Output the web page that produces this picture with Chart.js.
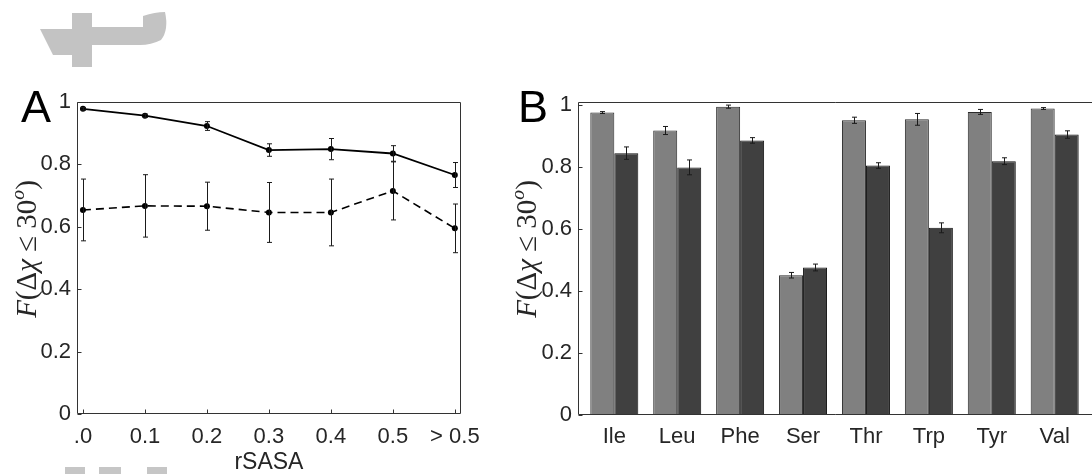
<!DOCTYPE html>
<html>
<head>
<meta charset="utf-8">
<script src="https://cdn.jsdelivr.net/npm/chart.js@4/dist/chart.umd.min.js"></script>
<style>
  body { margin: 0; background: #fff; }
  #wrap { position: relative; width: 1092px; height: 474px; overflow: hidden; }
  canvas { position: absolute; top: 0; }
  #chartA { left: 0; }
  #chartB { left: 490px; }
  .sq { position: absolute; background: #c6c6c6; top: 467px; height: 7px; }
  svg { position: absolute; left: 0; top: 0; }
</style>
</head>
<body>
<div id="wrap">
  <svg width="180" height="80">
    <path fill="#c3c3c3" d="M72,13 L92,13 L92,27 L143,27 L143,16 Q155,12 165,12 Q169,30 161,40 Q151,45 140,45 L92,45 L92,67 L72,67 L72,55 L53,55 L40,29 L72,29 Z"/>
  </svg>
  <div class="sq" style="left:65px;width:20px"></div>
  <div class="sq" style="left:99px;width:22px"></div>
  <div class="sq" style="left:147px;width:20px"></div>
  <canvas id="chartA" width="490" height="474"></canvas>
  <canvas id="chartB" width="602" height="474"></canvas>
</div>
<script>
// panel A: fraction vs rSASA bin
const rsasaTicks = [".0", "0.1", "0.2", "0.3", "0.4", "0.5", "> 0.5"];
const solidF = [0.978, 0.956, 0.923, 0.846, 0.849, 0.835, 0.766];
const solidErr = [0.004, 0.005, 0.014, 0.02, 0.034, 0.025, 0.04];
const dashedF = [0.654, 0.667, 0.666, 0.646, 0.646, 0.715, 0.595];
const dashedErr = [0.099, 0.1, 0.077, 0.096, 0.107, 0.093, 0.078];

// panel B: per residue
const residues = ["Ile", "Leu", "Phe", "Ser", "Thr", "Trp", "Tyr", "Val"];
const lightF = [0.976, 0.918, 0.995, 0.451, 0.951, 0.954, 0.978, 0.989];
const lightErr = [0.003, 0.013, 0.005, 0.009, 0.01, 0.019, 0.008, 0.003];
const darkF = [0.845, 0.799, 0.886, 0.476, 0.805, 0.604, 0.819, 0.905];
const darkErr = [0.02, 0.024, 0.009, 0.011, 0.009, 0.016, 0.011, 0.012];

const yTicks = [0, 0.2, 0.4, 0.6, 0.8, 1];
const sans = "'Liberation Sans', Arial, sans-serif";
const serif = "'Liberation Serif', 'Times New Roman', serif";
const ink = "#262626";

function pts(vals) {
  return vals.map((v, i) => ({ x: i, y: v }));
}
function yLabel(v) {
  return v === 0 ? "0" : v === 1 ? "1" : v.toFixed(1);
}

// error bars drawn through the scales
const errorBars = {
  id: "errorBars",
  afterDatasetsDraw(chart) {
    const ctx = chart.ctx;
    const ys = chart.scales.y;
    chart.data.datasets.forEach((ds, i) => {
      if (!ds.errors) return;
      const meta = chart.getDatasetMeta(i);
      ctx.save();
      ctx.strokeStyle = "#1a1a1a";
      ctx.lineWidth = 1;
      meta.data.forEach((el, j) => {
        const v = ds.data[j].y, e = ds.errors[j];
        const x = Math.round(el.x) + 0.5;
        const t = ys.getPixelForValue(v + e), b = ys.getPixelForValue(v - e);
        ctx.beginPath();
        ctx.moveTo(x, t); ctx.lineTo(x, b);
        ctx.moveTo(x - 2.5, t); ctx.lineTo(x + 2.5, t);
        ctx.moveTo(x - 2.5, b); ctx.lineTo(x + 2.5, b);
        ctx.stroke();
      });
      ctx.restore();
    });
  }
};

// matlab style box, inward ticks, panel letter and latex-ish y label
const frame = {
  id: "frame",
  afterDraw(chart, args, opts) {
    const ctx = chart.ctx;
    const a = chart.chartArea;
    const L = Math.round(a.left) + 0.5, R = Math.round(a.right) - 0.5;
    const T = Math.round(a.top) + 0.5, B = Math.round(a.bottom) - 0.5;
    ctx.save();
    ctx.lineWidth = 1;
    ctx.strokeStyle = "#333";
    ctx.beginPath();
    ctx.moveTo(L, T); ctx.lineTo(L, B); ctx.lineTo(opts.right ? R : chart.width, B);
    ctx.moveTo(L, T); ctx.lineTo(opts.right ? R : chart.width, T);
    if (opts.right) { ctx.moveTo(R, T); ctx.lineTo(R, B); }
    chart.scales.y.ticks.forEach(t => {
      const y = Math.round(chart.scales.y.getPixelForValue(t.value)) + 0.5;
      ctx.moveTo(L, y); ctx.lineTo(L + 4, y);
    });
    if (opts.xTicks) {
      chart.scales.x.ticks.forEach(t => {
        const x = Math.round(chart.scales.x.getPixelForValue(t.value)) + 0.5;
        ctx.moveTo(x, B); ctx.lineTo(x, B - 4);
      });
    }
    ctx.stroke();

    ctx.fillStyle = "#000";
    ctx.font = "45px " + sans;
    ctx.textBaseline = "alphabetic";
    ctx.fillText(opts.letter, opts.letterX, 122);

    // F(Δχ ≤ 30°)
    const size = 29;
    const segs = [
      ["F", "italic"], ["(", ""], ["Δ", ""], ["χ", "italic"], [" ≤ ", ""],
      ["30", ""], ["o", "italic", true], [")", ""]
    ];
    ctx.translate(opts.labelX, 249);
    ctx.rotate(-Math.PI / 2);
    ctx.fillStyle = ink;
    const fontOf = s => (s[1] ? s[1] + " " : "") + (s[2] ? size * 0.68 : size) + "px " + serif;
    let total = 0;
    segs.forEach(s => { ctx.font = fontOf(s); total += ctx.measureText(s[0]).width; });
    let cx = -total / 2;
    segs.forEach(s => {
      ctx.font = fontOf(s);
      ctx.fillText(s[0], cx, s[2] ? -size * 0.42 : 0);
      cx += ctx.measureText(s[0]).width;
    });
    ctx.restore();
  }
};

Chart.register(errorBars, frame);

const tickFont = { family: sans, size: 22 };

new Chart(document.getElementById("chartA"), {
  type: "line",
  data: {
    datasets: [
      {
        data: pts(solidF), errors: solidErr,
        borderColor: "#000", borderWidth: 1.8, backgroundColor: "#000",
        pointRadius: 3, pointBackgroundColor: "#000", pointBorderWidth: 0, tension: 0
      },
      {
        data: pts(dashedF), errors: dashedErr,
        borderColor: "#000", borderWidth: 1.6, borderDash: [8, 5], backgroundColor: "#000",
        pointRadius: 3, pointBackgroundColor: "#000", pointBorderWidth: 0, tension: 0
      }
    ]
  },
  options: {
    responsive: false,
    animation: false,
    layout: { padding: { top: 102, right: 25, left: 0, bottom: 0 } },
    plugins: {
      legend: { display: false },
      tooltip: { enabled: false },
      frame: { letter: "A", letterX: 21, labelX: 36, right: true, xTicks: true }
    },
    scales: {
      x: {
        type: "linear", min: -0.096, max: 6.096, offset: false,
        afterBuildTicks: s => { s.ticks = rsasaTicks.map((t, i) => ({ value: i })); },
        afterFit: s => { s.height = 60; },
        grid: { display: false, drawTicks: false }, border: { display: false },
        ticks: { font: tickFont, color: ink, padding: 10, maxRotation: 0, autoSkip: false,
                 callback: v => rsasaTicks[v] },
        title: { display: true, text: "rSASA", color: ink,
                 font: { family: sans, size: 23, lineHeight: 1 }, padding: { top: 0, bottom: 0 } }
      },
      y: {
        min: 0, max: 1,
        afterBuildTicks: s => { s.ticks = yTicks.map(v => ({ value: v })); },
        afterFit: s => { s.width = 77; },
        grid: { display: false, drawTicks: false }, border: { display: false },
        ticks: { font: tickFont, color: ink, padding: 6, callback: v => yLabel(v) }
      }
    }
  }
});

new Chart(document.getElementById("chartB"), {
  type: "bar",
  data: {
    datasets: [
      {
        data: pts(lightF), errors: lightErr,
        backgroundColor: "#808080", borderColor: "#2a2a2a", borderWidth: 1, borderSkipped: false
      },
      {
        data: pts(darkF), errors: darkErr,
        backgroundColor: "#404040", borderColor: "#111", borderWidth: 1, borderSkipped: false
      }
    ]
  },
  options: {
    responsive: false,
    animation: false,
    categoryPercentage: 0.763,
    barPercentage: 1,
    layout: { padding: { top: 102, right: 1, left: 0, bottom: 0 } },
    plugins: {
      legend: { display: false },
      tooltip: { enabled: false },
      frame: { letter: "B", letterX: 28, labelX: 46, right: false, xTicks: false }
    },
    scales: {
      x: {
        type: "linear", min: -0.577, max: 7.577, offset: false,
        afterBuildTicks: s => { s.ticks = residues.map((r, i) => ({ value: i })); },
        afterFit: s => { s.height = 59; },
        grid: { display: false, drawTicks: false }, border: { display: false },
        ticks: { font: tickFont, color: ink, padding: 9, maxRotation: 0, autoSkip: false,
                 callback: v => residues[v] }
      },
      y: {
        min: 0, max: 1.01,
        afterBuildTicks: s => { s.ticks = yTicks.map(v => ({ value: v })); },
        afterFit: s => { s.width = 88; },
        grid: { display: false, drawTicks: false }, border: { display: false },
        ticks: { font: tickFont, color: ink, padding: 6, callback: v => yLabel(v) }
      }
    }
  }
});
</script>
</body>
</html>
